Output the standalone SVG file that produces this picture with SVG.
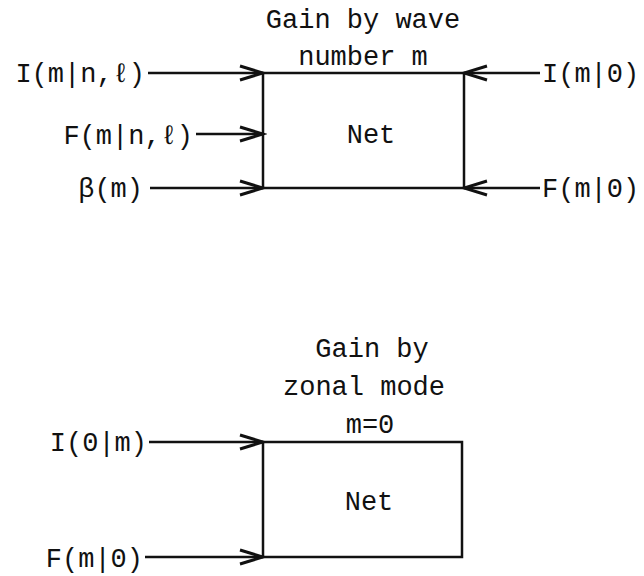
<svg xmlns="http://www.w3.org/2000/svg" width="644" height="576" viewBox="0 0 644 576">
<style>
text{font-family:"Liberation Mono","DejaVu Sans Mono",monospace;font-size:27px;fill:#111}
.box{fill:none;stroke:#111;stroke-width:2.5}
.c line{stroke:#111;stroke-width:2.5}
.e{text-anchor:end}
.m{text-anchor:middle}
</style>
<defs>
<marker id="ah" markerUnits="userSpaceOnUse" markerWidth="30" markerHeight="20" viewBox="-26 -10 30 20" refX="0" refY="0" orient="auto">
<path d="M-23,-7 L0,0 L-23,7" fill="none" stroke="#111" stroke-width="3"/>
</marker>
</defs>
<rect width="644" height="576" fill="#fff"/>
<g id="net1">
<rect class="box" x="263" y="73" width="201" height="115"/>
<text class="m" x="363" y="28">Gain by wave</text>
<text class="m" x="363" y="65">number m</text>
<text class="m" x="371" y="143">Net</text>
</g>
<g id="net2">
<rect class="box" x="263" y="442" width="199" height="115"/>
<text class="m" x="372" y="357">Gain by</text>
<text class="m" x="364" y="395">zonal mode</text>
<text class="m" x="370" y="433">m=0</text>
<text class="m" x="369" y="510">Net</text>
</g>
<g id="labels">
<text class="e" x="145" y="82">I(m|n,ℓ)</text>
<text class="e" x="193" y="144">F(m|n,ℓ)</text>
<text class="e" x="143" y="197">β(m)</text>
<text x="542" y="82">I(m|0)</text>
<text x="542" y="197">F(m|0)</text>
<text class="e" x="147" y="451">I(0|m)</text>
<text class="e" x="143" y="567">F(m|0)</text>
</g>
<g id="connectors" class="c">
<line x1="148" y1="73" x2="263" y2="73" marker-end="url(#ah)"/>
<line x1="196" y1="134" x2="263" y2="134" marker-end="url(#ah)"/>
<line x1="150" y1="188" x2="263" y2="188" marker-end="url(#ah)"/>
<line x1="540" y1="73" x2="464" y2="73" marker-end="url(#ah)"/>
<line x1="540" y1="188" x2="464" y2="188" marker-end="url(#ah)"/>
<line x1="149" y1="442" x2="263" y2="442" marker-end="url(#ah)"/>
<line x1="145" y1="557" x2="263" y2="557" marker-end="url(#ah)"/>
</g>
</svg>
